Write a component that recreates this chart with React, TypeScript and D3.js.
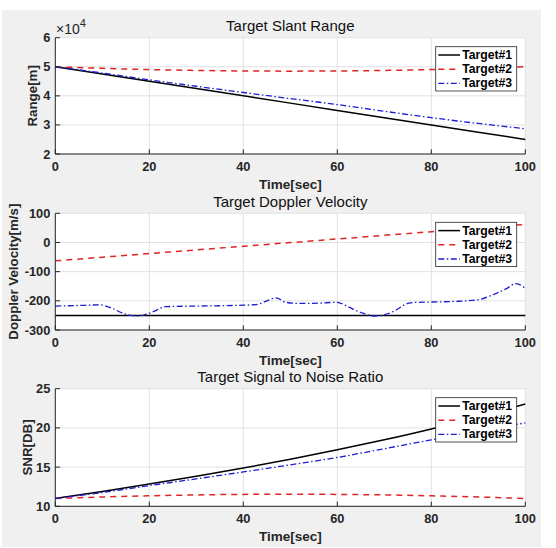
import React from "react";
import * as d3 from "d3";

// ---------- data ----------
const TIME = [0, 10, 20, 30, 40, 50, 60, 70, 80, 90, 100];
const SERIES_NAMES = ["Target#1", "Target#2", "Target#3"];

const RANGE_T1 = [50000, 47500, 45000, 42500, 40000, 37500, 35000, 32500, 30000, 27500, 25000];
const RANGE_T2 = [50000, 49460, 49040, 48740, 48560, 48500, 48560, 48740, 49040, 49460, 50000];
const RANGE_T3 = [50000, 47850, 45500, 43300, 41150, 39050, 37000, 34700, 32500, 30500, 28700];

const DOPPLER_T1 = [-250, -250, -250, -250, -250, -250, -250, -250, -250, -250, -250];
const DOPPLER_T2 = [-63, -50.5, -38, -25.5, -13, -0.5, 12, 24.5, 37, 49.5, 62];
const DOPPLER_T3_TIME = [0, 5, 9.5, 12, 14, 16, 17.5, 19, 21, 23.5, 30, 40, 43, 45, 47, 49, 52, 56, 60, 62, 65, 68, 70, 72, 75, 76, 80, 85, 90, 93, 96, 98, 100];
const DOPPLER_T3 = [-218, -216, -214, -225, -240, -250, -252, -248, -236, -220, -218, -215, -212, -200, -190, -205, -209, -208, -205, -218, -240, -252, -248, -236, -209, -206, -204, -202, -196, -180, -158, -141, -157];

const SNR_T1 = [11, 11.89, 12.83, 13.82, 14.88, 16.0, 17.2, 18.48, 19.87, 21.39, 23.04];
const SNR_T2 = [11, 11.19, 11.34, 11.45, 11.52, 11.54, 11.52, 11.45, 11.34, 11.19, 11.0];
const SNR_T3 = [11, 11.76, 12.64, 13.5, 14.38, 15.29, 16.23, 17.34, 18.48, 19.59, 20.64];

const X_TICKS = [0, 20, 40, 60, 80, 100];
const RANGE_TICKS = [20000, 30000, 40000, 50000, 60000];
const DOPPLER_TICKS = [-300, -200, -100, 0, 100];
const SNR_TICKS = [10, 15, 20, 25];

// ---------- styles ----------
const FONT = "'Liberation Sans', Arial, Helvetica, sans-serif";
const COLORS = ["#000000", "#e02424", "#1c1cd0"];
const DASHES = ["none", "6,5", "6,2.5,1.5,2.5"];
const WIDTHS = [1.5, 1.5, 1.3];
const AXIS_COLOR = "#262626";
const GRID_COLOR = "#e1e1e1";

const X0 = 55.3;
const X1 = 525.3;

type Series = { t: number[]; v: number[] };
type Panel = {
  title: string;
  ylabel: string;
  top: number;
  bottom: number;
  domain: [number, number];
  ticks: number[];
  fmt: (d: number) => string;
  series: Series[];
  smooth: boolean[];
  exponent?: boolean;
};

const PANELS: Panel[] = [
  {
    title: "Target Slant Range",
    ylabel: "Range[m]",
    top: 37.7,
    bottom: 154,
    domain: [20000, 60000],
    ticks: RANGE_TICKS,
    fmt: (d) => String(d / 10000),
    series: [
      { t: TIME, v: RANGE_T1 },
      { t: TIME, v: RANGE_T2 },
      { t: TIME, v: RANGE_T3 },
    ],
    smooth: [false, true, true],
    exponent: true,
  },
  {
    title: "Target Doppler Velocity",
    ylabel: "Doppler Velocity[m/s]",
    top: 213.3,
    bottom: 330,
    domain: [-300, 100],
    ticks: DOPPLER_TICKS,
    fmt: (d) => String(d),
    series: [
      { t: TIME, v: DOPPLER_T1 },
      { t: TIME, v: DOPPLER_T2 },
      { t: DOPPLER_T3_TIME, v: DOPPLER_T3 },
    ],
    smooth: [false, false, true],
  },
  {
    title: "Target Signal to Noise Ratio",
    ylabel: "SNR[DB]",
    top: 388.7,
    bottom: 506.3,
    domain: [10, 25],
    ticks: SNR_TICKS,
    fmt: (d) => String(d),
    series: [
      { t: TIME, v: SNR_T1 },
      { t: TIME, v: SNR_T2 },
      { t: TIME, v: SNR_T3 },
    ],
    smooth: [true, true, true],
  },
];

const x = d3.scaleLinear().domain([0, 100]).range([X0, X1]);

function PanelView({ p, idx }: { p: Panel; idx: number }) {
  const y = d3.scaleLinear().domain(p.domain).range([p.bottom, p.top]);
  const midY = (p.top + p.bottom) / 2;
  const midX = (X0 + X1) / 2;
  const ylabelX = idx === 1 ? 13 : idx === 0 ? 32 : 27;
  const lgX = 435.7;
  const lgY = p.top + 9;
  const lgW = 81;
  const lgH = 44.3;
  return (
    <g>
      <rect x={X0} y={p.top} width={X1 - X0} height={p.bottom - p.top} fill="#ffffff" />
      {/* grid */}
      {X_TICKS.map((t) => (
        <line key={"gx" + t} x1={x(t)} x2={x(t)} y1={p.top} y2={p.bottom} stroke={GRID_COLOR} strokeWidth={1} />
      ))}
      {p.ticks.map((t) => (
        <line key={"gy" + t} x1={X0} x2={X1} y1={y(t)} y2={y(t)} stroke={GRID_COLOR} strokeWidth={1} />
      ))}
      {/* series */}
      {p.series.map((s, i) => {
        const line = d3
          .line<number>()
          .x((_, k) => x(s.t[k]))
          .y((d) => y(d))
          .curve(p.smooth[i] ? d3.curveMonotoneX : d3.curveLinear);
        return (
          <path
            key={"s" + i}
            d={line(s.v) || ""}
            fill="none"
            stroke={COLORS[i]}
            strokeWidth={WIDTHS[i]}
            strokeDasharray={DASHES[i]}
          />
        );
      })}
      {/* axes */}
      <line x1={X0} x2={X1} y1={p.bottom} y2={p.bottom} stroke={AXIS_COLOR} strokeWidth={1} />
      <line x1={X0} x2={X0} y1={p.top} y2={p.bottom} stroke={AXIS_COLOR} strokeWidth={1} />
      {X_TICKS.map((t) => (
        <g key={"xt" + t}>
          <line x1={x(t)} x2={x(t)} y1={p.bottom} y2={p.bottom - 4.7} stroke={AXIS_COLOR} strokeWidth={1} />
          <text
            x={x(t)}
            y={p.bottom + 12.5}
            textAnchor="middle"
            dominantBaseline="central"
            fontFamily={FONT}
            fontWeight="bold"
            fontSize={12.8}
            fill={AXIS_COLOR}
          >
            {t}
          </text>
        </g>
      ))}
      {p.ticks.map((t) => (
        <g key={"yt" + t}>
          <line x1={X0} x2={X0 + 4.7} y1={y(t)} y2={y(t)} stroke={AXIS_COLOR} strokeWidth={1} />
          <text
            x={X0 - 5}
            y={y(t)}
            textAnchor="end"
            dominantBaseline="central"
            fontFamily={FONT}
            fontWeight="bold"
            fontSize={12.8}
            fill={AXIS_COLOR}
          >
            {p.fmt(t)}
          </text>
        </g>
      ))}
      {p.exponent && (
        <text x={56} y={33.5} fontFamily={FONT} fontSize={14} fill={AXIS_COLOR}>
          ×10
          <tspan dy={-7} fontSize={11}>
            4
          </tspan>
        </text>
      )}
      {/* labels */}
      <text
        x={midX}
        y={p.bottom + 30}
        textAnchor="middle"
        dominantBaseline="central"
        fontFamily={FONT}
        fontWeight="bold"
        fontSize={13.5}
        fill={AXIS_COLOR}
      >
        Time[sec]
      </text>
      <text
        transform={`translate(${ylabelX},${midY}) rotate(-90)`}
        textAnchor="middle"
        dominantBaseline="central"
        fontFamily={FONT}
        fontWeight="bold"
        fontSize={13.3}
        fill={AXIS_COLOR}
      >
        {p.ylabel}
      </text>
      <text
        x={midX}
        y={p.top - 12}
        textAnchor="middle"
        dominantBaseline="central"
        fontFamily={FONT}
        fontSize={15}
        fill="#111111"
      >
        {p.title}
      </text>
      {/* legend */}
      <rect x={lgX} y={lgY} width={lgW} height={lgH} fill="#ffffff" stroke={AXIS_COLOR} strokeWidth={0.8} />
      {SERIES_NAMES.map((name, i) => {
        const ry = lgY + 8.3 + i * 14.2;
        return (
          <g key={"lg" + i}>
            <line
              x1={lgX + 2.6}
              x2={lgX + 24.3}
              y1={ry}
              y2={ry}
              stroke={COLORS[i]}
              strokeWidth={WIDTHS[i]}
              strokeDasharray={DASHES[i]}
            />
            <text
              x={lgX + 26.5}
              y={ry}
              dominantBaseline="central"
              fontFamily={FONT}
              fontWeight="bold"
              fontSize={12.2}
              fill="#000000"
            >
              {name}
            </text>
          </g>
        );
      })}
    </g>
  );
}

export default function App() {
  return (
    <svg
      width={556}
      height={548}
      style={{ position: "absolute", left: 0, top: 0, background: "#ffffff" }}
    >
      <rect x={2} y={10} width={539} height={537} fill="#f0f0f0" />
      {PANELS.map((p, i) => (
        <PanelView key={i} p={p} idx={i} />
      ))}
    </svg>
  );
}
